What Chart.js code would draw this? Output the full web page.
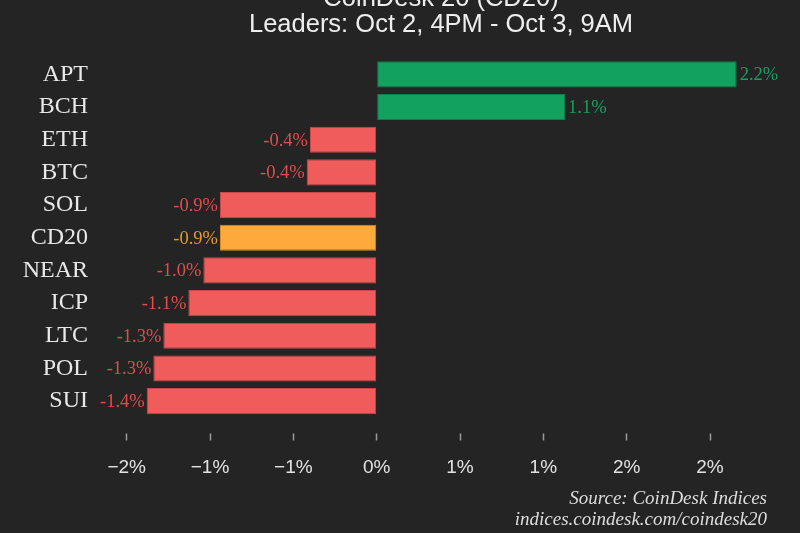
<!DOCTYPE html>
<html lang="en">
<head>
  <meta charset="UTF-8">
  <title>CoinDesk 20 Leaders</title>
  <script src="https://cdn.jsdelivr.net/npm/chart.js"></script>
  <style>
    body { margin: 0; background: #242424; }
    #wrap { width: 800px; height: 533px; }
  </style>
</head>
<body>
  <div id="wrap"><canvas id="chart" width="800" height="533"></canvas></div>

  <script>
    // data (percent change)
    const categories = ['APT', 'BCH', 'ETH', 'BTC', 'SOL', 'CD20', 'NEAR', 'ICP', 'LTC', 'POL', 'SUI'];
    const changes = [2.16, 1.13, -0.40, -0.42, -0.94, -0.94, -1.04, -1.13, -1.28, -1.34, -1.38];
    const indexName = 'CD20';
    const tickValues = [-1.5, -1, -0.5, 0, 0.5, 1, 1.5, 2];
    const tickLabels = ['−2%', '−1%', '−1%', '0%', '1%', '1%', '2%', '2%'];
    const titleLines = ['CoinDesk 20 (CD20)', 'Leaders: Oct 2, 4PM - Oct 3, 9AM'];
    const sourceLines = ['Source: CoinDesk Indices', 'indices.coindesk.com/coindesk20'];

    const GREEN = '#12a15e', RED = '#f05b5b', ORANGE = '#fda93c';

    function barColor(i) {
      if (categories[i] === indexName) return ORANGE;
      return changes[i] >= 0 ? GREEN : RED;
    }
    function labelColor(i) {
      if (categories[i] === indexName) return '#e3982f';
      return changes[i] >= 0 ? '#14a060' : '#e04d4d';
    }
    function borderColor(i) {
      if (categories[i] === indexName) return '#d98a26';
      return changes[i] >= 0 ? '#0d7f49' : '#c94848';
    }

    // background, title, source and value labels
    const decor = {
      id: 'decor',
      beforeDraw(chart) {
        const c = chart.ctx;
        c.save();
        c.fillStyle = '#242424';
        c.fillRect(0, 0, chart.width, chart.height);
        c.restore();
      },
      afterDatasetsDraw(chart) {
        const c = chart.ctx;
        const meta = chart.getDatasetMeta(0);
        c.save();
        c.font = '18.5px "Liberation Serif", serif';
        c.textBaseline = 'middle';
        meta.data.forEach((bar, i) => {
          const v = changes[i];
          c.fillStyle = labelColor(i);
          if (v < 0) {
            c.textAlign = 'right';
            c.fillText(v.toFixed(1) + '%', bar.x - 2, bar.y + 1);
          } else {
            c.textAlign = 'left';
            c.fillText(v.toFixed(1) + '%', bar.x + 3, bar.y + 1);
          }
        });
        c.restore();
      },
      afterDraw(chart) {
        const c = chart.ctx;
        c.save();
        c.fillStyle = '#eeeeee';
        c.font = '25.5px "Liberation Sans", Arial, sans-serif';
        c.textAlign = 'center';
        c.textBaseline = 'alphabetic';
        c.fillText(titleLines[0], 441, 6);
        c.fillText(titleLines[1], 441, 32);

        c.fillStyle = '#dddddd';
        c.font = 'italic 19px "Liberation Serif", serif';
        c.textAlign = 'right';
        c.fillText(sourceLines[0], 767, 504);
        c.fillText(sourceLines[1], 767, 525);
        c.restore();
      }
    };

    new Chart(document.getElementById('chart'), {
      type: 'bar',
      data: {
        labels: categories,
        datasets: [{
          data: changes,
          backgroundColor: changes.map((v, i) => barColor(i)),
          borderColor: changes.map((v, i) => borderColor(i)),
          borderWidth: 1,
          borderSkipped: false,
          categoryPercentage: 1,
          barPercentage: 0.8
        }]
      },
      options: {
        indexAxis: 'y',
        responsive: false,
        animation: false,
        layout: { padding: { top: 58, right: 10, bottom: 0, left: 0 } },
        plugins: {
          legend: { display: false },
          tooltip: { enabled: false }
        },
        scales: {
          x: {
            min: -1.66,
            max: 2.48,
            afterBuildTicks: (scale) => {
              scale.ticks = tickValues.map(v => ({ value: v }));
            },
            afterFit: (scale) => { scale.height = 115.5; },
            border: { display: false },
            grid: {
              drawOnChartArea: false,
              drawTicks: true,
              tickLength: 23,
              tickColor: '#9a9a9a',
              tickWidth: 1.5,
              tickBorderDash: [0, 15.5, 7, 60]
            },
            ticks: {
              color: '#e2e2e2',
              padding: 16,
              maxRotation: 0,
              autoSkip: false,
              font: { family: '"Liberation Sans", Arial, sans-serif', size: 19 },
              callback: (value, idx) => tickLabels[idx]
            }
          },
          y: {
            afterFit: (scale) => { scale.width = 100; },
            border: { display: false },
            grid: { display: false, drawTicks: false },
            ticks: {
              color: '#e8e8e8',
              padding: 12,
              font: { family: '"Liberation Serif", serif', size: 24 }
            }
          }
        }
      },
      plugins: [decor]
    });
  </script>
</body>
</html>
